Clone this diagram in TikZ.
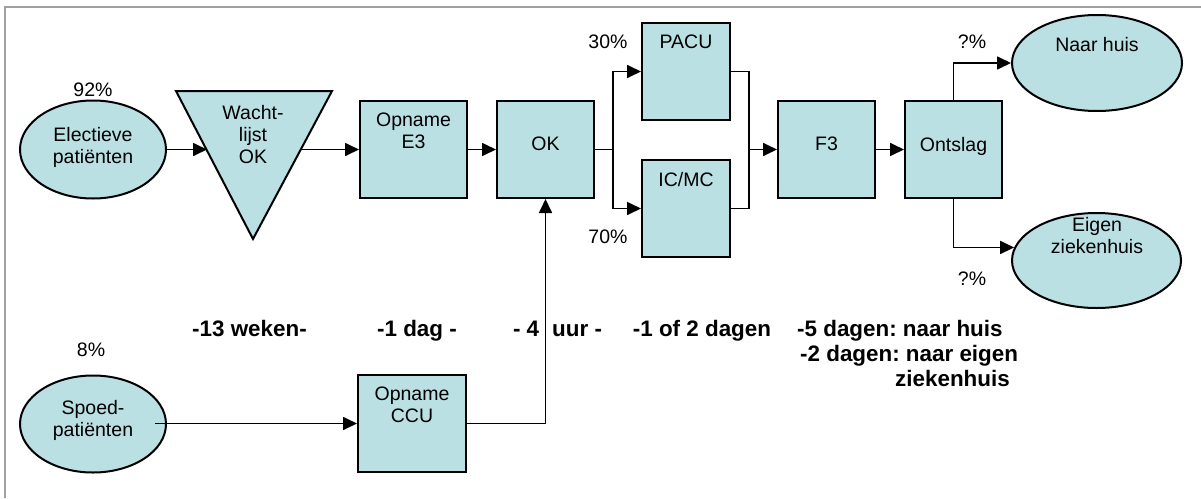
\documentclass[tikz,border=0pt]{standalone}
\usepackage{fontspec}
\setmainfont{Liberation Sans}
\usetikzlibrary{arrows.meta,shapes.geometric}
\definecolor{boxfill}{RGB}{187,224,227}
\definecolor{framegray}{RGB}{160,160,160}
\frenchspacing
\begin{document}
\begin{tikzpicture}[x=1pt,y=-1pt,
  shp/.style={draw=black, line width=2pt, fill=boxfill, inner sep=0pt},
  boxn/.style={shp, rectangle, minimum width=97pt, minimum height=97pt},
  ell/.style={shp, ellipse},
  txt/.style={font=\fontsize{19.5}{22}\selectfont, align=center, inner sep=0pt},
  lbl/.style={font=\fontsize{22.4}{25}\selectfont\bfseries, inner sep=0pt},
  conn/.style={line width=1.7pt, draw=black},
  arr/.style={conn, -{Triangle[length=14pt,width=13pt]}},
]
\useasboundingbox (0,0) rectangle (1201,498);
\draw[framegray, line width=2pt] (5,498) -- (5,7) -- (1201,7);

% shapes
\node[ell, minimum width=146pt, minimum height=98pt] (elec) at (93,149.5) {};
\node[txt, anchor=north] (elect) at (93,127) {Electieve\\patiënten};
\node[ell, minimum width=146pt, minimum height=97pt] (spoed) at (93,424) {};
\node[txt, anchor=north] (spoedt) at (93,400) {Spoed-\\patiënten};
\draw[shp] (176,91) -- (332,91) -- (253,239) -- cycle;
\node[txt, anchor=north] (wlt) at (253,105) {Wacht-\\lijst\\OK};
\coordinate (wlin) at (207,149.5);
\coordinate (wlout) at (301,149.5);

\node[boxn, minimum width=107pt] (e3) at (413.5,149.5) {};
\node[txt, anchor=north] (e3t) at (413.5,113) {Opname\\E3};
\node[boxn] (ok) at (545.5,149.5) {};
\node[txt, anchor=north] (okt) at (545.5,137) {OK};
\node[boxn, minimum width=88pt] (pacu) at (686,71.5) {};
\node[txt, anchor=north] (pacut) at (686,35) {PACU};
\node[boxn, minimum width=88pt] (icmc) at (686,208.5) {};
\node[txt, anchor=north] (icmct) at (686,172) {IC/MC};
\node[boxn] (f3) at (826.5,149.5) {};
\node[txt, anchor=north] (f3t) at (826.5,137) {F3};
\node[boxn] (ont) at (953.5,149.5) {};
\node[txt, anchor=north] (ontt) at (953.5,137) {Ontslag};
\node[ell, minimum width=170pt, minimum height=96pt] (naar) at (1097,63) {};
\node[txt, anchor=north] (naart) at (1097,37) {Naar huis};
\node[ell, minimum width=169pt, minimum height=95pt] (eigen) at (1096.5,260.5) {};
\node[txt, anchor=north] (eigent) at (1097,217) {Eigen\\ziekenhuis};
\node[boxn, minimum width=108pt] (ccu) at (412,423.5) {};
\node[txt, anchor=north] (ccut) at (412,387) {Opname\\CCU};

% percentages
\node[txt] (p92) at (93,90) {92\%};
\node[txt] (p8) at (91,350) {8\%};
\node[txt] (p30) at (608,42) {30\%};
\node[txt] (p70) at (608,237) {70\%};
\node[txt] (pq1) at (972,42) {?\%};
\node[txt] (pq2) at (972,279) {?\%};

% durations
\node[lbl, anchor=base] (d1) at (249.5,336) {-13 weken-};
\node[lbl, anchor=base] (d2) at (417,336) {-1 dag -};
\node[lbl, anchor=base] (d3) at (557.5,336) {- 4\hspace{13pt}uur -};
\node[lbl, anchor=base] (d4) at (702,336) {-1 of 2 dagen};
\node[lbl, anchor=base west] (d5) at (797,336) {-5 dagen: naar huis};
\node[lbl, anchor=base west] (d6) at (800,361) {-2 dagen: naar eigen};
\node[lbl, anchor=base west] (d7) at (895,386) {ziekenhuis};

% connectors
\draw[arr] (elec.east) -- (wlin);
\draw[arr] (wlout) -- (e3.west);
\draw[arr] (e3.east) -- (ok.west);
\coordinate (split) at (613,149.5);
\draw[conn] (ok.east) -- (split);
\draw[arr] (split) |- (pacu.west);
\draw[arr] (split) |- (icmc.west);
\coordinate (merge) at (749,149.5);
\draw[conn] (pacu.east) -| (merge);
\draw[conn] (icmc.east) -| (merge);
\draw[arr] (merge) -- (f3.west);
\draw[arr] (f3.east) -- (ont.west);
\draw[arr] (ont.north) |- (naar.west);
\draw[arr] (ont.south) |- (eigen.171);
\coordinate (spoedout) at (155,423.5);
\draw[arr] (spoedout) -- (ccu.west);
\draw[arr] (ccu.east) -| (ok.south);
\end{tikzpicture}
\end{document}
